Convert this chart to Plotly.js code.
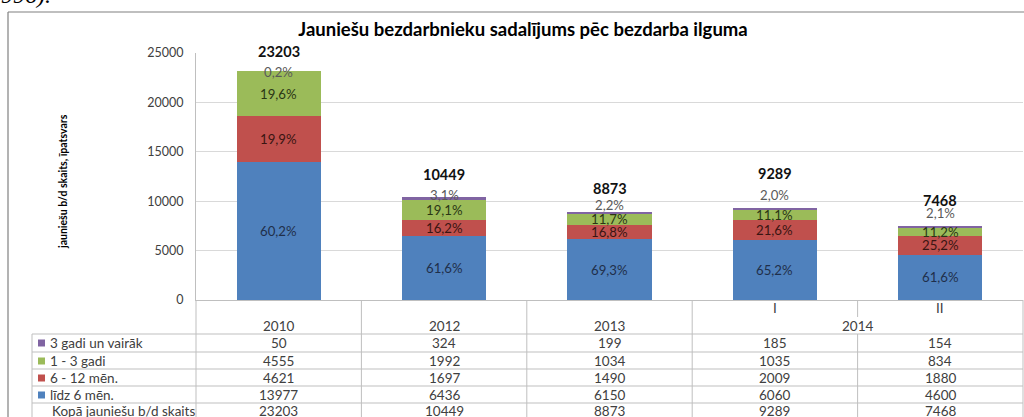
<!DOCTYPE html>
<html><head><meta charset="utf-8">
<script src="https://cdn.plot.ly/plotly-3.0.1.min.js"></script>
<style>html,body{margin:0;padding:0;background:#fff;}#chart{width:1024px;height:417px;}</style>
</head><body><div id="chart"></div>
<script>
// ---- data ----
const categories = ['2010','2012','2013','2014 I','2014 II'];
const headerTop = ['', '', '', 'I', 'II'];
const headerYears = ['2010','2012','2013','2014'];
const seriesNames = ['līdz 6 mēn.','6 - 12 mēn.','1 - 3 gadi','3 gadi un vairāk'];
const upTo6 = [13977,6436,6150,6060,4600];
const m6to12 = [4621,1697,1490,2009,1880];
const y1to3 = [4555,1992,1034,1035,834];
const y3plus = [50,324,199,185,154];
const totals = [23203,10449,8873,9289,7468];
const pctUpTo6 = ['60,2%','61,6%','69,3%','65,2%','61,6%'];
const pct6to12 = ['19,9%','16,2%','16,8%','21,6%','25,2%'];
const pct1to3 = ['19,6%','19,1%','11,7%','11,1%','11,2%'];
const pct3plus = ['0,2%','3,1%','2,2%','2,0%','2,1%'];
const totalRowLabel = 'Kopā jauniešu b/d skaits';
const chartTitle = 'Jauniešu bezdarbnieku sadalījums pēc bezdarba ilguma';
const yTitle = 'jauniešu b/d skaits, īpatsvars';

// ---- styling ----
const colors = ['#4F81BD','#C0504D','#9BBB59','#8064A2'];
const labelColors = ['#1f2f4a','#3a1512','#2a3614','#595959'];
const purpleShift = [-1, 2, 7, 13, 13];
const totalShift = [19, 22, 24, 35, 26];
const FONT = 'Lato, "Open Sans", sans-serif';
const L = 196, R = 1023, T = 53, B = 300;
const px = x => (x - L) / (R - L);
const py = y => (B - y) / (B - T);
const gridCol = '#bfbfbf';

const seriesVals = [upTo6, m6to12, y1to3, y3plus];
const traces = seriesVals.map((vals, k) => ({
  type: 'bar', x: categories, y: vals, name: seriesNames[k],
  marker: {color: colors[k], line: {width: 0}},
  width: 0.51, hoverinfo: 'skip', showlegend: false
}));

const annotations = [];
const shapes = [];
const ann = o => annotations.push(Object.assign({showarrow: false, xanchor: 'center', yanchor: 'middle'}, o));

// segment labels
const pcts = [pctUpTo6, pct6to12, pct1to3];
categories.forEach((c, i) => {
  let base = 0;
  for (let k = 0; k < 3; k++) {
    const v = seriesVals[k][i];
    ann({xref: 'x', yref: 'y', x: i, y: base + v / 2, text: pcts[k][i],
      font: {family: FONT, size: 13.2, color: labelColors[k]}});
    base += v;
  }
  base += y3plus[i];
  ann({xref: 'x', yref: 'y', x: i, y: base, yshift: purpleShift[i], text: pct3plus[i],
    font: {family: FONT, size: 13.2, color: labelColors[3]}});
  ann({xref: 'x', yref: 'y', x: i, y: totals[i], yshift: totalShift[i], text: String(totals[i]),
    font: {family: FONT, size: 14.5, color: '#111', weight: 'bold'}});
});

// y-axis title
ann({xref: 'paper', yref: 'paper', x: px(63), y: py(182), text: yTitle, textangle: -90,
  font: {family: FONT, size: 10.5, color: '#000', weight: 'bold'}});

// fragment of document text above the chart
ann({xref: 'paper', yref: 'paper', x: px(53), y: py(10), xanchor: 'right', yanchor: 'bottom',
  text: '996).', font: {family: '"Liberation Serif", serif', size: 24, color: '#000', style: 'italic'}});

// ---- data table ----
const tFont = {family: FONT, size: 13.5, color: '#404040'};
const rowTops = [334, 352, 369, 386, 403];
const rowDefs = [
  {name: seriesNames[3], color: colors[3], vals: y3plus},
  {name: seriesNames[2], color: colors[2], vals: y1to3},
  {name: seriesNames[1], color: colors[1], vals: m6to12},
  {name: seriesNames[0], color: colors[0], vals: upTo6},
  {name: totalRowLabel, color: null, vals: totals}
];
rowDefs.forEach((r, j) => {
  const cy = rowTops[j] + (j === 4 ? 7.5 : 9);
  if (r.color) {
    shapes.push({type: 'rect', xref: 'paper', yref: 'paper', x0: px(38), x1: px(45), y0: py(cy - 3.5), y1: py(cy + 3.5),
      fillcolor: r.color, line: {width: 0}});
  }
  ann({xref: 'paper', yref: 'paper', x: px(r.color ? 47.5 : 49.5), y: py(cy), xanchor: 'left',
    text: r.name, font: tFont});
  r.vals.forEach((v, i) => {
    ann({xref: 'x', yref: 'paper', x: i, y: py(cy), text: String(v), font: tFont});
  });
});
// header
headerYears.forEach((yl, i) => {
  const xi = i < 3 ? i : 3.5;
  ann({xref: 'x', yref: 'paper', x: xi, y: py(326), text: yl, font: tFont});
});
headerTop.forEach((h, i) => {
  if (h) ann({xref: 'x', yref: 'paper', x: i, y: py(308), text: h, font: tFont});
});

// table grid lines
const hl = (y, x0, x1) => shapes.push({type: 'line', xref: 'paper', yref: 'paper', x0: px(x0), x1: px(x1), y0: py(y), y1: py(y), line: {color: gridCol, width: 1}});
const vlx = (xi, y0, y1) => shapes.push({type: 'line', xref: 'x', yref: 'paper', x0: xi, x1: xi, y0: py(y0), y1: py(y1), line: {color: gridCol, width: 1}});
const vlp = (x, y0, y1) => shapes.push({type: 'line', xref: 'paper', yref: 'paper', x0: px(x), x1: px(x), y0: py(y0), y1: py(y1), line: {color: gridCol, width: 1}});
rowTops.forEach(y => hl(y, 32, R));
vlp(32, 334, 420);
vlp(L, 300, 420);
vlx(0.5, 300, 420); vlx(1.5, 300, 420); vlx(2.5, 300, 420);
vlx(3.5, 300, 317); vlx(3.5, 334, 420);
vlp(R, 300, 420);

// chart frame
shapes.push({type: 'line', xref: 'paper', yref: 'paper', x0: px(8), x1: px(1030), y0: py(12), y1: py(12), line: {color: '#808080', width: 1.2}});
shapes.push({type: 'line', xref: 'paper', yref: 'paper', x0: px(8), x1: px(8), y0: py(12), y1: py(420), line: {color: '#808080', width: 1.2}});

const layout = {
  width: 1024, height: 417,
  margin: {l: L, r: 1024 - R, t: T, b: 417 - B, pad: 0},
  paper_bgcolor: '#fff', plot_bgcolor: '#fff',
  barmode: 'stack', bargap: 0.49,
  title: {text: chartTitle, xref: 'container', yref: 'container', x: 523/1024, y: 1 - 30/417,
    xanchor: 'center', yanchor: 'middle', font: {family: FONT, size: 18.5, color: '#000', weight: 'bold'}},
  xaxis: {type: 'category', range: [-0.5, 4.5], showticklabels: false, ticks: '', showgrid: false,
    showline: true, linecolor: gridCol, linewidth: 1, zeroline: false, fixedrange: true},
  yaxis: {range: [0, 25000], dtick: 5000, tick0: 0, showgrid: true, gridcolor: '#d9d9d9', gridwidth: 1,
    showline: true, linecolor: gridCol, linewidth: 1, zeroline: false,
    ticks: 'outside', ticklen: 9, tickcolor: 'rgba(0,0,0,0)',
    tickfont: {family: FONT, size: 12.5, color: '#404040'}, tickformat: 'd'},
  showlegend: false,
  annotations: annotations, shapes: shapes
};
Plotly.newPlot('chart', traces, layout, {staticPlot: true, displayModeBar: false});
</script>
</body></html>
